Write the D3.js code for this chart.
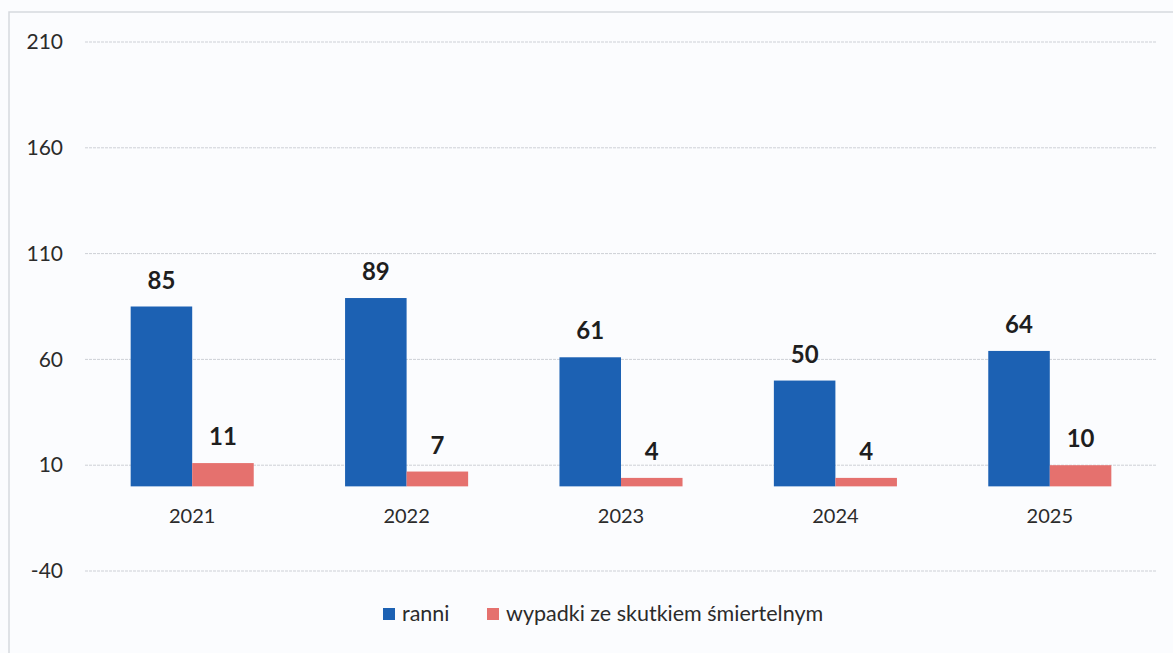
<!DOCTYPE html>
<html>
<head>
<meta charset="utf-8">
<script src="https://cdn.jsdelivr.net/npm/d3@7"></script>
<style>
  body { margin: 0; background: #fbfcfe; }
  svg { display: block; }
</style>
</head>
<body>
<div id="chart"></div>
<script>
const years = ["2021", "2022", "2023", "2024", "2025"];
const ranni = [85, 89, 61, 50, 64];
const smiertelne = [11, 7, 4, 4, 10];
const tickValues = [-40, 10, 60, 110, 160, 210];
const seriesNames = ["ranni", "wypadki ze skutkiem śmiertelnym"];
const seriesColors = ["#1c61b3", "#e5716e"];

const width = 1173;
const height = 653;
const font = "Lato, 'Open Sans', sans-serif";

const svg = d3.select("#chart")
    .append("svg")
    .attr("width", width)
    .attr("height", height);

// scanned page frame
svg.append("path")
    .attr("d", `M9,${height} V12 H${width}`)
    .attr("fill", "none")
    .attr("stroke", "#d6d9de")
    .attr("stroke-width", 1.5);

const x = d3.scaleBand()
    .domain(years)
    .range([85, 1157])
    .paddingInner(0.426)
    .paddingOuter(0.213);

const xSub = d3.scaleBand()
    .domain(seriesNames)
    .range([0, x.bandwidth()]);

const y = d3.scaleLinear()
    .domain([-40, 210])
    .range([571, 42]);

// Gridlines
svg.append("g")
    .selectAll("line")
    .data(tickValues)
    .enter()
    .append("line")
    .attr("x1", 85)
    .attr("x2", 1157)
    .attr("y1", d => y(d))
    .attr("y2", d => y(d))
    .attr("stroke", "#cdd0d6")
    .attr("stroke-width", 1)
    .attr("stroke-dasharray", "3,1");

// Y axis labels
const yAxis = svg.append("g")
    .attr("transform", "translate(63,0)")
    .call(d3.axisLeft(y).tickValues(tickValues).tickFormat(d => String(d)).tickSize(0).tickPadding(0));
yAxis.select(".domain").remove();
yAxis.selectAll("text")
    .style("font-family", font)
    .style("font-size", "21px")
    .style("fill", "#2b2b2b");

// Bars
const groups = svg.append("g")
    .selectAll("g")
    .data(years.map((yr, i) => ({ year: yr, values: [ranni[i], smiertelne[i]] })))
    .enter()
    .append("g")
    .attr("transform", d => `translate(${x(d.year)},0)`);

groups.selectAll("rect")
    .data(d => d.values.map((v, j) => ({ name: seriesNames[j], value: v, color: seriesColors[j] })))
    .enter()
    .append("rect")
    .attr("x", d => xSub(d.name))
    .attr("y", d => y(d.value))
    .attr("width", xSub.bandwidth())
    .attr("height", d => y(0) - y(d.value))
    .attr("fill", d => d.color);

groups.selectAll("text.value")
    .data(d => d.values.map((v, j) => ({ name: seriesNames[j], value: v })))
    .enter()
    .append("text")
    .attr("class", "value")
    .attr("x", d => xSub(d.name) + xSub.bandwidth() / 2)
    .attr("y", d => y(d.value) - 18)
    .attr("text-anchor", "middle")
    .style("font-family", font)
    .style("font-size", "24px")
    .style("font-weight", "bold")
    .style("fill", "#1e1e1e")
    .text(d => d.value);

// X axis labels (category names)
const xAxis = svg.append("g")
    .attr("transform", `translate(0,${y(0)})`)
    .call(d3.axisBottom(x).tickSize(0).tickPadding(22));
xAxis.select(".domain").remove();
xAxis.selectAll("text")
    .style("font-family", font)
    .style("font-size", "20px")
    .style("fill", "#2b2b2b");

// Legend
const legend = svg.append("g")
    .attr("transform", "translate(383,621)");
const legendOffsets = [0, 104];
seriesNames.forEach((name, i) => {
    const item = legend.append("g").attr("transform", `translate(${legendOffsets[i]},0)`);
    item.append("rect")
        .attr("x", 0)
        .attr("y", -13)
        .attr("width", 12)
        .attr("height", 12)
        .attr("fill", seriesColors[i]);
    item.append("text")
        .attr("x", 19)
        .attr("y", 0)
        .style("font-family", font)
        .style("font-size", "21.5px")
        .style("fill", "#2b2b2b")
        .text(name);
});
</script>
</body>
</html>
